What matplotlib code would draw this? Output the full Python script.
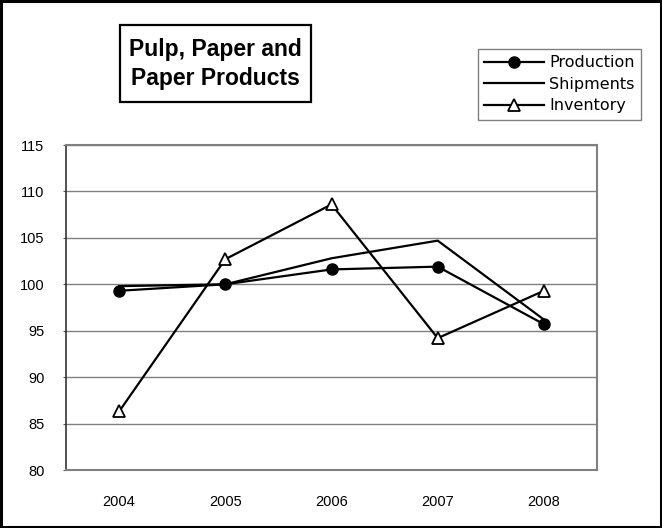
import matplotlib
matplotlib.use("Agg")
import matplotlib.pyplot as plt
from matplotlib.lines import Line2D
from matplotlib.patches import Rectangle

years = ["2004", "2005", "2006", "2007", "2008"]
production = [99.3, 100.0, 101.6, 101.9, 95.7]
shipments = [99.8, 100.0, 102.8, 104.7, 96.2]
inventory = [86.3, 102.7, 108.6, 94.2, 99.3]
yticks = [80, 85, 90, 95, 100, 105, 110, 115]

plt.rcParams['font.family'] = ['Liberation Sans', 'DejaVu Sans']

W, H = 662, 528
fig = plt.figure(figsize=(W/100, H/100), dpi=100)
ax = fig.add_axes([66/W, 58/H, 531/W, 325/H])

x = list(range(len(years)))
ax.plot(x, shipments, color='black', lw=1.6, zorder=3)
ax.plot(x, production, color='black', lw=1.6, marker='o', ms=8, zorder=4)
ax.plot(x, inventory, color='black', lw=1.6, marker='^', ms=8,
        markerfacecolor='white', markeredgecolor='black', markeredgewidth=1.3, zorder=5)

ax.set_xlim(-0.5, 4.5)
ax.set_ylim(80, 115)
ax.set_yticks(yticks)
ax.set_yticklabels([str(v) for v in yticks], fontsize=10.5)
ax.set_xticks(x)
ax.set_xticklabels(years, fontsize=10.5)
ax.tick_params(axis='x', length=0, pad=18)
ax.tick_params(axis='y', length=2.5, direction='out', pad=13, color='#555555')
ax.yaxis.grid(True, color='#808080', lw=1.0)
ax.set_axisbelow(True)
for s in ['top', 'right', 'bottom']:
    ax.spines[s].set_color('#808080')
    ax.spines[s].set_linewidth(1.5)
ax.spines['left'].set_color('#333333')
ax.spines['left'].set_linewidth(1.2)

# Title box
fig.patches.append(Rectangle((120/W, 1 - 102/H), 191/W, 77/H, transform=fig.transFigure,
                             fill=True, facecolor='white', edgecolor='black', lw=1.6))
fig.text(215.5/W, 1 - 64/H, "Pulp, Paper and\nPaper Products", ha='center', va='center',
         fontsize=16.5, fontweight='bold', linespacing=1.3)

# Legend
handles = [
    Line2D([], [], color='black', lw=1.6, marker='o', ms=8),
    Line2D([], [], color='black', lw=1.6),
    Line2D([], [], color='black', lw=1.6, marker='^', ms=8, markerfacecolor='white',
           markeredgecolor='black', markeredgewidth=1.3),
]
leg = fig.legend(handles, ["Production", "Shipments", "Inventory"],
                 loc='upper right', bbox_to_anchor=(641/W, 1 - 49/H),
                 prop={'family': 'DejaVu Sans', 'size': 11.5},
                 frameon=True, fancybox=False, edgecolor='#606060',
                 handlelength=3.7, handletextpad=0.35, labelspacing=0.4,
                 borderpad=0.4, borderaxespad=0)
leg.get_frame().set_linewidth(1.0)

# Figure border
fig.patches.append(Rectangle((0.002, 0.002), 0.996, 0.996, transform=fig.transFigure,
                             fill=False, edgecolor='black', lw=2.2))

fig.savefig("out.png", dpi=100)
